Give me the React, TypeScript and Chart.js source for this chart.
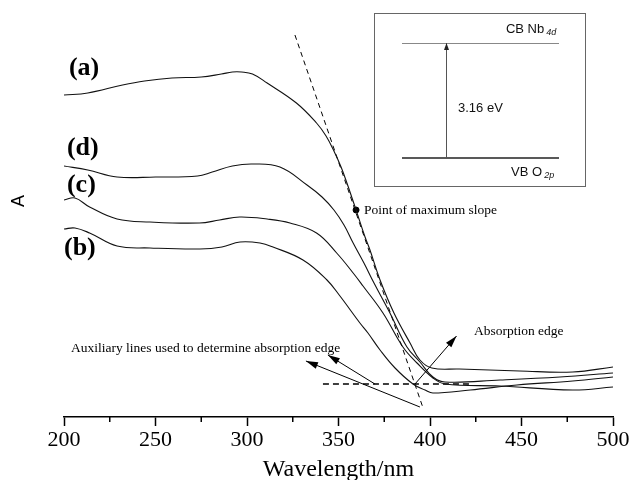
import React, { useEffect, useRef } from "react";
import { Chart, registerables } from "chart.js";

Chart.register(...registerables);

// ---- data (wavelength in nm, absorbance in arbitrary units) ----
const curveA_nm = [200, 213, 232, 244, 259, 275, 286, 292, 297, 303, 311, 327, 338, 343.2, 347.5, 351.4, 354.6, 357.4, 359.6, 364.5, 367.2, 372.7, 380.3, 389.1, 394.5, 401, 416, 449, 478, 500];
const curveA_val = [322, 324, 332, 336, 339, 340, 343, 345, 345, 343, 334, 314, 294, 281, 266, 250, 234, 219, 207, 180, 167, 137, 104, 74, 57, 49, 48, 46, 45, 50];

const curveD_nm = [200, 213, 229, 250, 273, 281, 292, 303, 318, 332.8, 341, 347.5, 353, 358, 363.9, 369.4, 378.1, 387.4, 394.5, 401.6, 408.2, 438.3, 471, 500];
const curveD_val = [251, 247, 240, 240, 241, 245, 251, 253, 250, 232, 220, 207, 192, 174, 154, 134, 104, 70, 55, 40, 35, 37, 40, 44];

const curveC_nm = [200, 206, 214, 229, 247, 274, 285, 296, 311, 323.5, 338, 349, 358, 363.4, 374.3, 385.2, 392.9, 401.6, 408.2, 438.3, 478, 500];
const curveC_val = [217, 219, 210, 198, 195, 194, 197, 200, 198, 194, 184, 164, 144, 131, 104, 70, 54, 39, 33, 31, 27, 30];

const curveB_nm = [200, 206, 214, 229, 247, 274.3, 286.3, 296.2, 307.1, 314.2, 330.6, 343.7, 350.8, 361.7, 366.1, 372.7, 380.9, 390.7, 397.3, 401.6, 422, 447.5, 478, 500];
const curveB_val = [188, 189, 184, 171, 169, 168, 170, 175, 174, 170, 157, 137, 121, 94, 84, 67, 49, 33, 27, 24, 27, 32, 36, 40];

// auxiliary lines
const tangent_nm = [326.2, 396.2];
const tangent_val = [382, 9];
const baseline_nm = [341.5, 422];
const baseline_val = [33, 33];
const maxSlope_nm = [359.6];
const maxSlope_val = [207];

const xTicks = [200, 250, 300, 350, 400, 450, 500];
const xMinorTicks = [225, 275, 325, 375, 425, 475];
const curveLabels = ["(a)", "(d)", "(c)", "(b)"];

const SERIF = "'Liberation Serif', 'Times New Roman', serif";
const SANS = "'Liberation Sans', Arial, sans-serif";

const zip = (xs: number[], ys: number[]) => xs.map((x, i) => ({ x, y: ys[i] }));

function drawArrow(ctx: CanvasRenderingContext2D, x1: number, y1: number, x2: number, y2: number, len: number, half: number) {
  ctx.beginPath();
  ctx.moveTo(x1, y1);
  ctx.lineTo(x2, y2);
  ctx.stroke();
  const a = Math.atan2(y2 - y1, x2 - x1);
  const bx = x2 - len * Math.cos(a);
  const by = y2 - len * Math.sin(a);
  ctx.beginPath();
  ctx.moveTo(x2, y2);
  ctx.lineTo(bx + half * Math.sin(a), by - half * Math.cos(a));
  ctx.lineTo(bx - half * Math.sin(a), by + half * Math.cos(a));
  ctx.closePath();
  ctx.fill();
}

const overlay = {
  id: "overlay",
  afterDraw(chart: any) {
    const ctx: CanvasRenderingContext2D = chart.ctx;
    const xs = chart.scales.x;
    const ys = chart.scales.y;
    const X = (v: number) => xs.getPixelForValue(v);
    const Y = (v: number) => ys.getPixelForValue(v);
    ctx.save();

    // minor ticks
    ctx.strokeStyle = "#000";
    ctx.lineWidth = 1.5;
    const bottom = chart.chartArea.bottom;
    xMinorTicks.forEach((t) => {
      ctx.beginPath();
      ctx.moveTo(X(t), bottom);
      ctx.lineTo(X(t), bottom + 5);
      ctx.stroke();
    });

    // curve labels
    ctx.fillStyle = "#000";
    ctx.font = `bold 26px ${SERIF}`;
    ctx.textBaseline = "middle";
    ctx.textAlign = "left";
    const labelPos = [
      [202.7, 349],
      [201.6, 269],
      [201.6, 232],
      [200, 169],
    ];
    curveLabels.forEach((t, i) => ctx.fillText(t, X(labelPos[i][0]), Y(labelPos[i][1])));

    // annotations
    ctx.font = `13.5px ${SERIF}`;
    ctx.fillText("Point of maximum slope", X(363.9), Y(207));
    ctx.fillText("Absorption edge", X(424), Y(86));
    ctx.fillText("Auxiliary lines used to determine absorption edge", X(203.8), Y(69));

    // arrows
    ctx.lineWidth = 1;
    ctx.strokeStyle = "#000";
    ctx.fillStyle = "#000";
    drawArrow(ctx, X(391.8), Y(33), X(414.5), Y(81), 12, 3.5);
    drawArrow(ctx, X(394.5), Y(10), X(332.2), Y(56), 12, 3.5);
    drawArrow(ctx, X(369.9), Y(33), X(344.2), Y(62), 12, 3.5);

    // y label
    ctx.save();
    ctx.translate(X(175.4), Y(216));
    ctx.rotate(-Math.PI / 2);
    ctx.font = `18px ${SANS}`;
    ctx.textAlign = "center";
    ctx.textBaseline = "middle";
    ctx.fillText("A", 0, 0);
    ctx.restore();

    // inset
    const bx1 = X(369.4), bx2 = X(484.7), by1 = Y(404), by2 = Y(231);
    ctx.strokeStyle = "#666";
    ctx.lineWidth = 1;
    ctx.strokeRect(Math.round(bx1) + 0.5, Math.round(by1) + 0.5, Math.round(bx2 - bx1), Math.round(by2 - by1));
    const lx1 = X(384.7), lx2 = X(470.5);
    ctx.strokeStyle = "#888";
    ctx.beginPath();
    ctx.moveTo(lx1, Math.round(Y(374)) + 0.5);
    ctx.lineTo(lx2, Math.round(Y(374)) + 0.5);
    ctx.stroke();
    ctx.strokeStyle = "#222";
    ctx.lineWidth = 1.5;
    ctx.beginPath();
    ctx.moveTo(lx1, Y(259));
    ctx.lineTo(lx2, Y(259));
    ctx.stroke();
    ctx.strokeStyle = "#555";
    ctx.fillStyle = "#222";
    ctx.lineWidth = 1;
    const ax = Math.round(X(408.7)) + 0.5;
    drawArrow(ctx, ax, Y(259), ax, Y(374), 7, 2.5);

    ctx.fillStyle = "#111";
    ctx.textAlign = "left";
    ctx.textBaseline = "middle";
    ctx.font = `13px ${SANS}`;
    const cbX = X(441.5);
    ctx.fillText("CB Nb", cbX, Y(388));
    const cbW = ctx.measureText("CB Nb").width;
    ctx.fillText("3.16 eV", X(415.3), Y(309));
    const vbX = X(444.3);
    ctx.fillText("VB O", vbX, Y(245));
    const vbW = ctx.measureText("VB O").width;
    ctx.font = `italic 9px ${SANS}`;
    ctx.fillText("4d", cbX + cbW + 2, Y(385));
    ctx.fillText("2p", vbX + vbW + 2, Y(242));

    ctx.restore();
  },
};

export default function App() {
  const ref = useRef<HTMLCanvasElement | null>(null);

  useEffect(() => {
    if (!ref.current) return;
    const line = (nm: number[], val: number[]) => ({
      data: zip(nm, val),
      showLine: true,
      borderColor: "#111",
      borderWidth: 1.1,
      pointRadius: 0,
      tension: 0.4,
      fill: false,
    });
    const chart = new Chart(ref.current, {
      type: "scatter",
      data: {
        datasets: [
          line(curveA_nm, curveA_val),
          line(curveD_nm, curveD_val),
          line(curveC_nm, curveC_val),
          line(curveB_nm, curveB_val),
          {
            data: zip(tangent_nm, tangent_val),
            showLine: true,
            borderColor: "#000",
            borderWidth: 1,
            borderDash: [5, 4],
            pointRadius: 0,
          },
          {
            data: zip(baseline_nm, baseline_val),
            showLine: true,
            borderColor: "#000",
            borderWidth: 1.3,
            borderDash: [6, 4],
            pointRadius: 0,
          },
          {
            data: zip(maxSlope_nm, maxSlope_val),
            showLine: false,
            pointRadius: 3,
            pointBackgroundColor: "#000",
            pointBorderColor: "#000",
          },
        ],
      },
      options: {
        animation: false,
        responsive: false,
        events: [],
        layout: { autoPadding: false, padding: { left: 64, right: 20, top: 0, bottom: 0 } },
        plugins: { legend: { display: false }, tooltip: { enabled: false } },
        scales: {
          x: {
            type: "linear",
            min: 200,
            max: 500,
            afterBuildTicks: (s: any) => {
              s.ticks = xTicks.map((v) => ({ value: v }));
            },
            afterFit: (s: any) => {
              s.height = 63;
            },
            ticks: {
              color: "#000",
              padding: 1,
              autoSkip: false,
              maxRotation: 0,
              font: { family: SERIF, size: 22 },
            },
            grid: {
              display: true,
              drawOnChartArea: false,
              drawTicks: true,
              tickLength: 9,
              tickWidth: 1.5,
              tickColor: "#000",
            },
            border: { display: true, color: "#000", width: 1.5 },
            title: {
              display: true,
              text: "Wavelength/nm",
              color: "#000",
              font: { family: SERIF, size: 24, lineHeight: 0.83 },
              padding: { top: 0, bottom: 0 },
            },
          },
          y: {
            type: "linear",
            min: 0,
            max: 417,
            display: false,
          },
        },
      },
      plugins: [overlay],
    });
    return () => chart.destroy();
  }, []);

  return (
    <div style={{ position: "absolute", left: 0, top: 0, width: 633, height: 480, background: "#fff" }}>
      <canvas ref={ref} width={633} height={480} style={{ display: "block", width: 633, height: 480 }} />
    </div>
  );
}
